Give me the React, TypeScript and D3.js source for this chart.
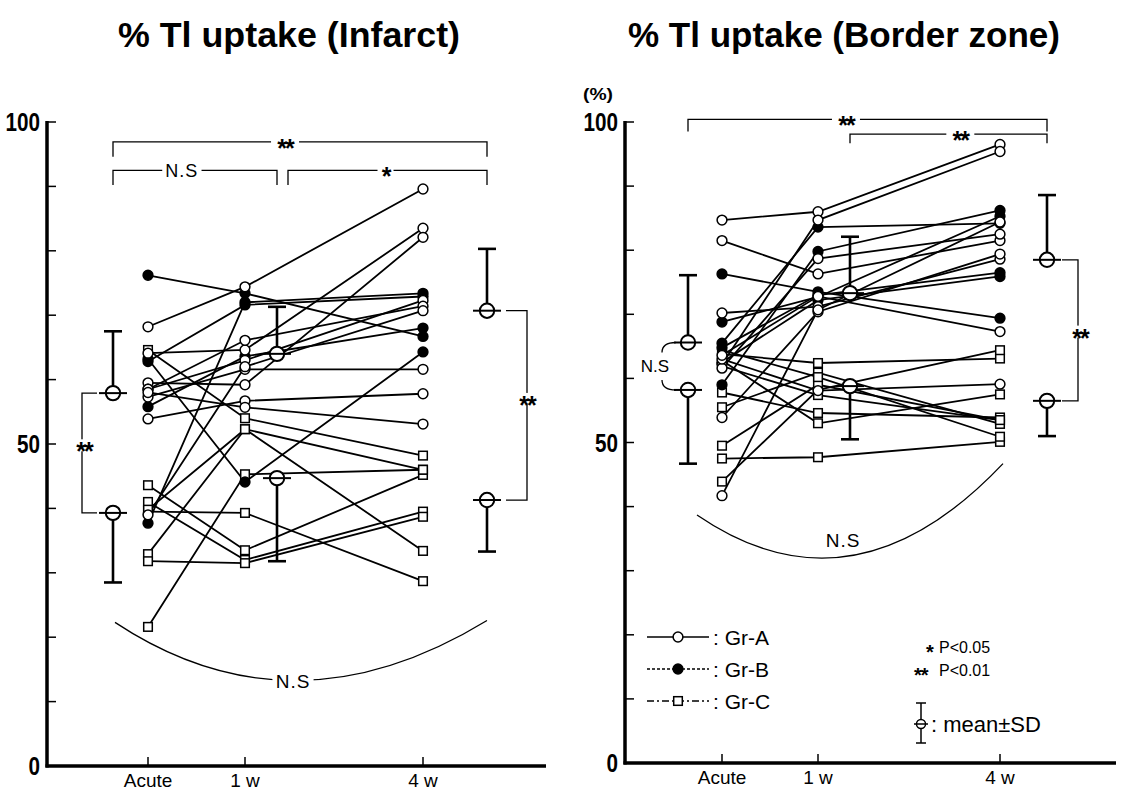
import React from 'react';
import * as d3 from 'd3';

// time points and axis ticks
const times = ['Acute', '1 w', '4 w'];
const yTicks = d3.range(0, 101, 10);
const yLabels = [0, 50, 100];

// % Tl uptake, infarct. one row per patient: [Acute, 1 w, 4 w]
const infarctGrA = [
  [68.2, 74.4, 89.6],
  [64.1, 64.6, 83.5],
  [59.5, 59.2, 82.1],
  [58.5, 63.0, 72.3],
  [58.5, 66.1, 71.4],
  [57.3, 61.6, 61.6],
  [53.9, 56.7, 57.8],
  [58.0, 55.7, 53.1],
  [39.0, 62.0, 70.7],
];
const infarctGrB = [
  [76.2, 73.4, 66.7],
  [63.2, 44.1, 64.3],
  [62.8, 71.6, 72.9],
  [55.8, 63.6, 68.0],
  [37.7, 72.0, 73.4],
];
const infarctGrC = [
  [64.6, 54.0, 48.2],
  [43.6, 33.5, 45.2],
  [41.0, 32.0, 39.5],
  [39.5, 39.3, 28.7],
  [39.8, 52.3, 33.4],
  [32.9, 52.3, 46.0],
  [31.8, 31.5, 38.7],
  [21.6, 45.3, 46.0],
];
const infarctMeanHigh = [57.9, 64.0, 70.7];
const infarctSdHigh = [9.6, 7.3, 9.6];
const infarctMeanLow = [39.3, 44.7, 41.3];
const infarctSdLow = [10.8, 12.9, 8.0];

// % Tl uptake, border zone
const borderGrA = [
  [84.7, 86.0, 96.5],
  [81.5, 76.3, 81.5],
  [70.2, 71.2, 78.6],
  [62.2, 84.7, 95.4],
  [61.6, 78.7, 82.5],
  [53.9, 70.4, 79.4],
  [41.7, 70.7, 84.4],
  [63.0, 58.1, 59.1],
  [63.6, 72.8, 67.3],
];
const borderGrB = [
  [76.3, 73.5, 69.4],
  [68.8, 72.7, 85.3],
  [65.5, 83.6, 84.2],
  [59.0, 79.8, 86.2],
  [64.8, 73.0, 76.5],
  [62.5, 72.2, 75.9],
];
const borderGrC = [
  [63.8, 62.4, 63.1],
  [43.9, 58.2, 64.4],
  [49.5, 59.0, 53.5],
  [47.5, 47.7, 50.1],
  [57.8, 54.6, 53.9],
  [55.5, 60.9, 52.9],
  [62.8, 53.0, 57.5],
  [64.4, 60.2, 50.9],
  [61.9, 57.4, 53.5],
];
const borderMeanHigh = [65.6, 73.3, 78.5];
const borderSdHigh = [10.5, 8.8, 10.1];
const borderMeanLow = [58.2, 58.8, 56.5];
const borderSdLow = [11.5, 8.3, 5.5];

const legendItems = [
  { kind: 'open', label: 'Gr-A', dash: null },
  { kind: 'filled', label: 'Gr-B', dash: '3,2' },
  { kind: 'square', label: 'Gr-C', dash: '7,3,2,3' },
];

const FONT = "'Liberation Sans', Arial, sans-serif";

function Marker({ kind, x, y }) {
  if (kind === 'square') {
    return <rect x={x - 4.3} y={y - 4.3} width={8.6} height={8.6} fill='white' stroke='black' strokeWidth={1.5} />;
  }
  return (
    <circle cx={x} cy={y} r={4.9} fill={kind === 'filled' ? 'black' : 'white'}
      stroke='black' strokeWidth={1.5} />
  );
}

function MeanBar({ x, y, yEnd }) {
  const dir = yEnd < y ? -1 : 1;
  return (
    <g stroke='black'>
      <line x1={x} x2={x} y1={y + dir * 7} y2={yEnd} strokeWidth={2.6} />
      <line x1={x - 9} x2={x + 9} y1={yEnd} y2={yEnd} strokeWidth={2.6} />
      <circle cx={x} cy={y} r={7.2} fill='white' strokeWidth={2} />
      <line x1={x - 14} x2={x + 14} y1={y} y2={y} strokeWidth={2} />
    </g>
  );
}

function Panel({ cfg, grA, grB, grC, meanHigh, sdHigh, meanLow, sdLow, children }) {
  const y = d3.scaleLinear().domain([0, 100]).range([cfg.yBottom, cfg.yTop]);
  const x = d3.scaleOrdinal().domain(times).range(cfg.cat);
  const mx = d3.scaleOrdinal().domain(times).range(cfg.meanPos);
  const line = d3.line().x((d, i) => x(times[i])).y(d => y(d));

  const groups = [
    { kind: 'square', rows: grC },
    { kind: 'filled', rows: grB },
    { kind: 'open', rows: grA },
  ];

  return (
    <g>
      {/* axes */}
      <line x1={cfg.axisX} x2={cfg.axisX} y1={cfg.yTop - 1} y2={cfg.yBottom + 1.5} stroke='black' strokeWidth={3.5} />
      <line x1={cfg.axisX - 1.5} x2={cfg.axisEnd} y1={cfg.yBottom} y2={cfg.yBottom} stroke='black' strokeWidth={3.5} />
      {yTicks.map(t => (
        <line key={t} x1={cfg.axisX} x2={cfg.axisX + 9} y1={y(t)} y2={y(t)} stroke='black' strokeWidth={1.5} />
      ))}
      {yLabels.map(t => (
        <text key={t} x={cfg.axisX - 7} y={y(t)} dy='0.36em' textAnchor='end'
          fontFamily={FONT} fontWeight='bold' fontSize={25}
          textLength={String(t).length * 11.5} lengthAdjust='spacingAndGlyphs'>{t}</text>
      ))}
      {times.map(t => (
        <g key={t}>
          <line x1={x(t)} x2={x(t)} y1={cfg.yBottom} y2={cfg.yBottom - 9} stroke='black' strokeWidth={1.5} />
          <text x={x(t)} y={cfg.yBottom + 21} textAnchor='middle' fontFamily={FONT} fontSize={19}>{t}</text>
        </g>
      ))}

      {/* patient lines */}
      {groups.map(g => g.rows.map((r, i) => (
        <path key={g.kind + i} d={line(r)} fill='none' stroke='black' strokeWidth={1.8} />
      )))}
      {groups.map(g => g.rows.map((r, i) => r.map((v, j) => (
        <Marker key={g.kind + i + '-' + j} kind={g.kind} x={x(times[j])} y={y(v)} />
      ))))}

      {/* mean +- SD */}
      {times.map((t, i) => (
        <g key={'m' + t}>
          <MeanBar x={mx(t)} y={y(meanHigh[i])} yEnd={y(meanHigh[i] + sdHigh[i])} />
          <MeanBar x={mx(t)} y={y(meanLow[i])} yEnd={y(meanLow[i] - sdLow[i])} />
        </g>
      ))}

      {children({ x, mx, y })}
    </g>
  );
}

// text with a white box behind it, so bracket lines break around it
function Label({ x, y, size = 18, children }) {
  const w = size * 1.85;
  return (
    <g>
      <rect x={x - w / 2 - 3} y={y - size * 0.5} width={w + 6} height={size} fill='white' />
      <text x={x} y={y} dy='0.36em' textAnchor='middle' fontFamily={FONT} fontSize={size}
        letterSpacing={1}>{children}</text>
    </g>
  );
}

function Stars({ x, y, n = 2 }) {
  const w = n * 12;
  return (
    <g>
      <rect x={x - w / 2 - 2} y={y - 6} width={w + 4} height={12} fill='white' />
      <text x={x} y={y} dy='0.6em' textAnchor='middle' fontFamily={FONT} fontSize={25} fontWeight='bold'
        letterSpacing={-2}>{'*'.repeat(n)}</text>
    </g>
  );
}

export default function App() {
  const left = { axisX: 47, axisEnd: 546, yBottom: 766, yTop: 122, cat: [148, 245, 423], meanPos: [113, 277, 487] };
  const right = { axisX: 625, axisEnd: 1116, yBottom: 763, yTop: 122, cat: [722, 818, 1000], meanPos: [688, 850, 1047] };
  const br = { stroke: 'black', strokeWidth: 1.3, fill: 'none' };

  return (
    <svg width={1121} height={792} style={{ position: 'absolute', left: 0, top: 0, background: 'white' }}>
      <rect width={1121} height={792} fill='white' />
      <text x={118} y={47} fontFamily={FONT} fontWeight='bold' fontSize={35}
        textLength={342} lengthAdjust='spacingAndGlyphs'>% Tl uptake (Infarct)</text>
      <text x={628} y={47} fontFamily={FONT} fontWeight='bold' fontSize={35}
        textLength={432} lengthAdjust='spacingAndGlyphs'>% Tl uptake (Border zone)</text>

      <Panel cfg={left} grA={infarctGrA} grB={infarctGrB} grC={infarctGrC}
        meanHigh={infarctMeanHigh} sdHigh={infarctSdHigh} meanLow={infarctMeanLow} sdLow={infarctSdLow}>
        {({ mx, y }) => {
          const a = mx('Acute'), b = mx('1 w'), c = mx('4 w');
          const vx = a - 31, rx = c + 40;
          return (
            <g>
              <path {...br} d={`M${a},${y(94.6)}V${y(96.9)}H${c}V${y(94.6)}`} />
              <Stars x={a + (c - a) * 0.46} y={y(96.9)} />
              <path {...br} d={`M${a},${y(90.2)}V${y(92.5)}H${b}V${y(90.2)}`} />
              <Label x={a + (b - a) * 0.42} y={y(92.5)}>N.S</Label>
              <path {...br} d={`M${b + 11},${y(90.2)}V${y(92.5)}H${c}V${y(90.2)}`} />
              <Stars x={b + 11 + (c - b - 11) * 0.49} y={y(92.5)} n={1} />
              <path {...br} d={`M${a - 16},${y(infarctMeanHigh[0])}H${vx}V${y(infarctMeanLow[0])}H${a - 16}`} />
              <Stars x={vx + 2} y={y(49.8)} />
              <path {...br} d={`M${c + 19},${y(infarctMeanHigh[2])}H${rx}V${y(infarctMeanLow[2])}H${c + 19}`} />
              <Stars x={rx} y={y(57)} />
              <path {...br} d={`M${a + 2},${y(22.3)}Q${(a + c) / 2 - 8},${y(4.1)} ${c},${y(22.6)}`} />
              <Label x={(a + c) / 2 - 7} y={y(13.2)} size={19}>N.S</Label>
            </g>
          );
        }}
      </Panel>

      <Panel cfg={right} grA={borderGrA} grB={borderGrB} grC={borderGrC}
        meanHigh={borderMeanHigh} sdHigh={borderSdHigh} meanLow={borderMeanLow} sdLow={borderSdLow}>
        {({ x, mx, y }) => {
          const a = mx('Acute'), b = mx('1 w'), c = mx('4 w');
          const rx = c + 31;
          const cx = a - 26;
          const y1 = y(borderMeanHigh[0]), y2 = y(borderMeanLow[0]);
          const gx = 647, lx = 678;
          return (
            <g>
              <text x={right.axisX - 27} y={y(103.5)} textAnchor='middle' fontFamily={FONT} fontWeight='bold'
                fontSize={17} textLength={30} lengthAdjust='spacingAndGlyphs'>(%)</text>
              <path {...br} d={`M${a},${y(98.5)}V${y(100.4)}H${c}V${y(98.5)}`} />
              <Stars x={a + (c - a) * 0.44} y={y(100.4)} />
              <path {...br} d={`M${b},${y(96.7)}V${y(98.1)}H${c}V${y(96.7)}`} />
              <Stars x={b + (c - b) * 0.56} y={y(98.1)} />
              <path {...br} d={`M${a - 12},${y1}Q${cx},${y1} ${cx},${y1 + 10}M${a - 12},${y2}Q${cx},${y2} ${cx},${y2 - 10}`} />
              <text x={cx - 7} y={(y1 + y2) / 2} dy='0.36em' textAnchor='middle' fontFamily={FONT} fontSize={17}>N.S</text>
              <path {...br} d={`M${c + 15},${y(borderMeanHigh[2])}H${rx}V${y(borderMeanLow[2])}H${c + 15}`} />
              <Stars x={rx + 2} y={y(67.3)} />
              <path {...br} d={`M${x('Acute') - 25},${y(38.7)}Q${x('1 w') + 35},${y(22)} ${x('4 w') + 3},${y(46.7)}`} />
              <Label x={x('1 w') + 25} y={y(34.7)} size={19}>N.S</Label>

              {legendItems.map((it, i) => {
                const ly = 637 + i * 32;
                return (
                  <g key={it.label}>
                    <line x1={gx} x2={gx + 62} y1={ly} y2={ly} stroke='black' strokeWidth={1.5}
                      strokeDasharray={it.dash || undefined} />
                    <Marker kind={it.kind} x={lx} y={ly} />
                    <text x={gx + 66} y={ly} dy='0.36em' fontFamily={FONT} fontSize={21}>:  {it.label}</text>
                  </g>
                );
              })}
              <text x={926} y={659} fontFamily={FONT} fontSize={20} fontWeight='bold'>*</text>
              <text x={939} y={647} dy='0.36em' fontFamily={FONT} fontSize={16}>P&lt;0.05</text>
              <text x={914} y={682} fontFamily={FONT} fontSize={20} fontWeight='bold' letterSpacing={-1}>**</text>
              <text x={939} y={670} dy='0.36em' fontFamily={FONT} fontSize={16}>P&lt;0.01</text>
              <g stroke='black' strokeWidth={1.5}>
                <line x1={921} x2={921} y1={703} y2={743} />
                <line x1={916} x2={926} y1={703} y2={703} />
                <line x1={916} x2={926} y1={743} y2={743} />
                <circle cx={921} cy={724} r={4.5} fill='white' />
                <line x1={914} x2={928} y1={724} y2={724} />
              </g>
              <text x={931} y={724} dy='0.36em' fontFamily={FONT} fontSize={22}>: mean±SD</text>
            </g>
          );
        }}
      </Panel>
    </svg>
  );
}
